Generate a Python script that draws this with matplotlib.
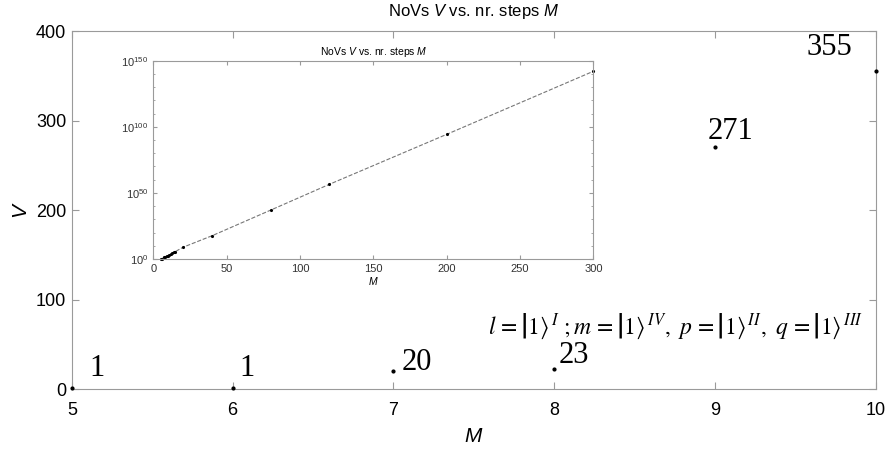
import numpy as np
import matplotlib.pyplot as plt
from matplotlib.ticker import FixedLocator, LogFormatterMathtext

plt.rcParams['font.family'] = ['Liberation Sans', 'DejaVu Sans']
plt.rcParams['mathtext.fontset'] = 'custom'
plt.rcParams['mathtext.it'] = 'Liberation Sans:italic'
plt.rcParams['mathtext.rm'] = 'Liberation Sans'

# main plot data
M = [5, 6, 7, 8, 9, 10]
V = [1, 1, 20, 23, 271, 355]
labels = ['1', '1', '20', '23', '271', '355']
# label anchor offsets (data units) next to each point
lab_dx = [0.11, 0.04, 0.05, 0.03, -0.045, -0.43]
lab_y = [14.5, 14.5, 21, 29, 280, 373]

# inset data (log10 of V)
M_in = [5, 6, 7, 8, 9, 10, 11, 12, 13, 14, 15, 20, 40, 80, 120, 200, 300]
logV_in = [0, 0, 1.30, 1.36, 2.43, 2.55, 3.2, 3.7, 4.5, 5.0, 5.6, 8.8,
           17.6, 37.0, 56.5, 94.3, 142.0]

grey = '#9a9a9a'
fig = plt.figure(figsize=(8.88, 4.5), dpi=100)
ax = fig.add_axes([0.081, 0.135, 0.905, 0.796])

ax.plot(M, V, 'k.', ms=4, clip_on=False, zorder=5)
for m, dx, ly, t in zip(M, lab_dx, lab_y, labels):
    ax.text(m + dx, ly, t, family='Liberation Serif', fontsize=22,
            ha='left', va='baseline')

ax.set_xlim(5, 10)
ax.set_ylim(0, 400)
ax.set_xticks(range(5, 11))
ax.set_yticks(range(0, 401, 100))
ax.tick_params(direction='in', top=True, right=True, length=5,
               color=grey, labelsize=13)
ax.tick_params(axis='x', pad=9)
ax.tick_params(axis='y', pad=4)
for s in ax.spines.values():
    s.set_color(grey)
ax.set_xlabel('$M$', fontsize=15, labelpad=6)
ax.set_ylabel('$V$', fontsize=15, labelpad=4)
ax.set_title('NoVs $V$ vs. nr. steps $M$', fontsize=12, pad=11)

ket = r'\left|\overset{\ }{\underset{\ }{1}}\right\rangle'
formula = (r'$\mathit{l}\,=' + ket + r'^{\,I}\ ;\mathit{m}\,=' + ket + r'^{\,IV}'
           r',\ \mathit{p}\,=' + ket + r'^{\,II},\ \mathit{q}\,=' + ket + r'^{\,III}$')
ax.text(7.59, 62, formula, fontsize=17, ha='left', va='baseline',
        math_fontfamily='stix')

# inset
axi = fig.add_axes([0.1727, 0.4244, 0.4955, 0.4407])
axi.semilogy(M_in, [10.0 ** v for v in logV_in], '--', color='#777777', lw=0.8)
axi.semilogy(M_in, [10.0 ** v for v in logV_in], 'k.', ms=2.5, clip_on=False)
axi.set_xlim(0, 300)
axi.set_ylim(1, 1e150)
axi.set_xticks(range(0, 301, 50))
axi.yaxis.set_major_locator(FixedLocator([1e0, 1e50, 1e100, 1e150]))
axi.yaxis.set_minor_locator(FixedLocator([10.0 ** k for k in range(0, 151, 10)]))
axi.yaxis.set_major_formatter(LogFormatterMathtext())
axi.yaxis.set_minor_formatter(plt.NullFormatter())
axi.tick_params(which='both', direction='in', top=True, right=True,
                color=grey, labelsize=8, labelcolor='#333333')
axi.tick_params(which='major', length=3)
axi.tick_params(which='minor', length=1.5)
for s in axi.spines.values():
    s.set_color(grey)
axi.set_xlabel('$M$', fontsize=7.5, labelpad=1)
axi.set_title('NoVs $V$ vs. nr. steps $M$', fontsize=7.5, pad=4)

fig.savefig('out.png', dpi=100)
